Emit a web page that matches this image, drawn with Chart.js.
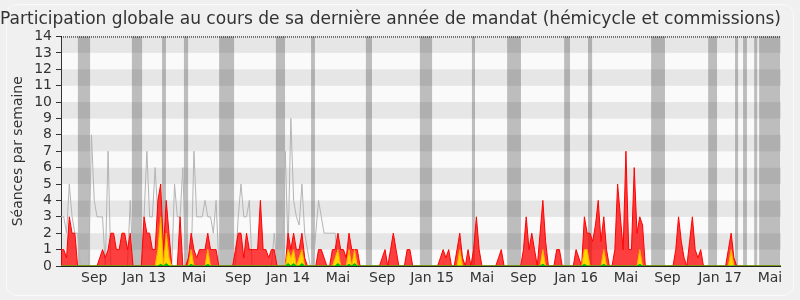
<!DOCTYPE html>
<html lang="fr">
<head>
  <meta charset="UTF-8" />
  <title>Participation globale</title>
  <script src="https://cdn.jsdelivr.net/npm/chart.js"></script>
  <style>
    html, body { margin: 0; padding: 0; background: #f0f0f0; }
    .chart-container { position: relative; width: 800px; height: 300px; }
  </style>
</head>
<body>
  <div class="chart-container">
    <canvas id="participationChart"></canvas>
  </div>

  <script>
    // one value per week, from mid-June 2012 to June 2017
    const presences = [
      1, 1, 0.5, 3, 2, 2, 0, 0, 0, 0, 0, 0, 0, 0, 0.5, 1, 0.5, 1, 2, 2,
      1, 1, 2, 2, 1, 2, 0, 0, 0, 0, 3, 2, 2, 1, 1, 4, 5, 1, 4, 2,
      0, 0, 0, 3, 0, 0, 0.5, 2, 1, 0.5, 1, 1, 1, 2, 1, 1, 1, 0, 0, 0,
      0, 0, 0, 1, 2, 2, 0.5, 2, 1, 1, 1, 1, 4, 1, 1, 0.5, 1, 1, 0, 0,
      0, 0, 2, 1, 2, 1, 1, 2, 0.5, 0, 0, 0, 0, 1, 1, 0.5, 0, 0, 1, 1,
      2, 1, 1, 0.5, 2, 1, 1, 1, 0, 0, 0, 0, 0, 0, 0, 0, 0.5, 1, 0, 1,
      2, 1, 0, 0, 0, 1, 1, 0, 0, 0, 0, 0, 0, 0, 0, 0, 0, 0.5, 1, 0.5,
      1, 0, 0, 1, 2, 0.5, 0, 1, 0, 1, 3, 1, 0, 0, 0, 0, 0, 0, 0.5, 1,
      0, 0, 0, 0, 0, 0, 0, 1, 3, 1, 2, 1, 0, 2, 4, 1.5, 0, 0, 0, 1,
      1, 0, 0, 0, 0, 0, 1, 0.5, 0, 3, 2, 2, 1.5, 2.5, 4, 1.5, 3, 1, 0, 0,
      1, 5, 3, 1, 7, 1, 1, 6, 2, 3, 2.5, 0, 0, 0, 0, 0, 0, 0, 0, 0,
      0, 0, 1, 3, 1.5, 0.5, 0, 1.5, 3, 1, 0.5, 1, 0, 0, 0, 0, 0, 0, 0, 0,
      0, 1, 2, 0.5, 0, 0, 0, 0, 0, 0, 0, 0, 0, 0, 0, 0, 0, 0, 0, 0,
      0
    ];

    const interventions = [
      0, 0, 0, 0, 0, 0, 0, 0, 0, 0, 0, 0, 0, 0, 0, 0, 0, 0, 0, 0,
      0, 0, 0, 0, 0, 0, 0, 0, 0, 0, 0, 0, 0, 0, 0, 1, 3, 0, 2, 0.5,
      0, 0, 0, 0, 0, 0, 0, 1, 0, 0, 0, 0, 0, 1, 0, 0, 0, 0, 0, 0,
      0, 0, 0, 0, 0, 0, 0, 0, 0, 0, 0, 0, 0, 0, 0, 0, 0, 0, 0, 0,
      0, 0, 1, 0.5, 1, 0, 0.5, 1, 0, 0, 0, 0, 0, 0, 0, 0, 0, 0, 0, 0.5,
      1, 0, 0, 0, 1, 0, 1, 0, 0, 0, 0, 0, 0, 0, 0, 0, 0, 0, 0, 0,
      0, 0, 0, 0, 0, 0, 0, 0, 0, 0, 0, 0, 0, 0, 0, 0, 0, 0, 0, 0,
      0, 0, 0, 0, 1, 0, 0, 0, 0, 0, 0, 0, 0, 0, 0, 0, 0, 0, 0, 0,
      0, 0, 0, 0, 0, 0, 0, 0, 0, 0, 0, 0, 0, 0, 1, 0, 0, 0, 0, 0,
      0, 0, 0, 0, 0, 0, 0, 0, 0, 1, 1, 0, 0, 0, 0, 0, 1, 0, 0, 0,
      0, 0, 0, 0, 0, 0, 0, 0, 0, 1, 0, 0, 0, 0, 0, 0, 0, 0, 0, 0,
      0, 0, 0, 0, 0, 0, 0, 0, 0, 0, 0, 0, 0, 0, 0, 0, 0, 0, 0, 0,
      0, 0, 1, 0, 0, 0, 0, 0, 0, 0, 0, 0, 0, 0, 0, 0, 0, 0, 0, 0,
      0
    ];

    const questions = [
      0, 0, 0, 0, 0, 0, 0, 0, 0, 0, 0, 0, 0, 0, 0, 0, 0, 0, 0, 0,
      0, 0, 0, 0, 0, 0, 0, 0, 0, 0, 0, 0, 0, 0, 0, 0, 0.1, 0, 0.15, 0,
      0, 0, 0, 0, 0, 0, 0, 0.1, 0, 0, 0, 0, 0, 0.1, 0, 0, 0, 0, 0, 0,
      0, 0, 0, 0, 0, 0, 0, 0, 0, 0, 0, 0, 0, 0, 0, 0, 0, 0, 0, 0,
      0, 0, 0.15, 0, 0.15, 0, 0, 0.15, 0, 0, 0, 0, 0, 0, 0, 0, 0, 0, 0, 0,
      0.15, 0, 0, 0, 0.1, 0, 0.15, 0, 0, 0, 0, 0, 0, 0, 0, 0, 0, 0, 0, 0,
      0, 0, 0, 0, 0, 0, 0, 0, 0, 0, 0, 0, 0, 0, 0, 0, 0, 0, 0, 0,
      0, 0, 0, 0, 0, 0, 0, 0, 0, 0, 0, 0, 0, 0, 0, 0, 0, 0, 0, 0,
      0, 0, 0, 0, 0, 0, 0, 0, 0, 0, 0, 0, 0, 0, 0.1, 0, 0, 0, 0, 0,
      0, 0, 0, 0, 0, 0, 0, 0, 0, 0.1, 0, 0, 0, 0, 0, 0, 0.1, 0, 0, 0,
      0, 0, 0, 0, 0, 0, 0, 0, 0, 0.1, 0, 0, 0, 0, 0, 0, 0, 0, 0, 0,
      0, 0, 0, 0, 0, 0, 0, 0, 0, 0, 0, 0, 0, 0, 0, 0, 0, 0, 0, 0,
      0, 0, 0, 0, 0, 0, 0, 0, 0, 0, 0, 0, 0, 0, 0, 0, 0, 0, 0, 0,
      0
    ];

    const mediane = [
      3, 3, 2, 5, 3, 2, 2, 0, 0, 0, 0, 8, 4, 3, 3, 3, 0, 7, 0, 0,
      0, 0, 0, 0, 0, 4, 0, 0, 0, 0, 3, 7, 3, 3, 6, 3, 2, 0, 0, 0,
      0, 5, 3, 3, 6, 0, 0, 0, 7, 3, 3, 3, 4, 3, 3, 2, 4, 0, 0, 0,
      0, 0, 0, 0, 3, 5, 3, 3, 4, 0, 0, 0, 0, 0, 0, 0, 0, 2, 0, 0,
      0, 7, 1, 9, 4, 3, 2.5, 5, 2, 1, 0, 0, 2, 4, 3, 2, 2, 2, 2, 2,
      0, 0, 0, 0, 0, 0, 0, 0, 0, 0, 0, 0, 0, 0, 0, 0, 0, 0, 0, 0,
      0, 0, 0, 0, 0, 0, 0, 0, 0, 0, 0, 0, 0, 0, 0, 0, 0, 0, 0, 0,
      0, 0, 0, 0, 0, 0, 0, 0, 0, 0, 0, 0, 0, 0, 0, 0, 0, 0, 0, 0,
      0, 0, 0, 0, 0, 0, 0, 0, 0, 0, 0, 0, 0, 0, 0, 0, 0, 0, 0, 0,
      0, 0, 0, 0, 0, 0, 0, 0, 0, 0, 0, 0, 0, 0, 0, 0, 0, 0, 0, 0,
      0, 0, 0, 0, 0, 0, 0, 0, 0, 0, 0, 0, 0, 0, 0, 0, 0, 0, 0, 0,
      0, 0, 0, 0, 0, 0, 0, 0, 0, 0, 0, 0, 0, 0, 0, 0, 0, 0, 0, 0,
      0, 0, 0, 0, 0, 0, 0, 0, 0, 0, 0, 0, 0, 0, 0, 0, 0, 0, 0, 0,
      0
    ];

    // parliamentary holidays, as [first week, last week]
    const vacances = [
      [6.1, 10.5], [25.6, 29.3], [36.5, 37.9], [44.4, 45.9], [57.1, 62.5],
      [77.6, 80.9], [90.3, 91.7], [110.1, 112.3], [129.6, 134.0], [148.4, 149.5],
      [161.1, 166.1], [181.7, 183.8], [190.3, 191.8], [213.1, 218.1], [233.7, 236.9],
      [243.4, 244.5], [246.3, 247.7], [250.3, 251.4], [252.1, 259.7]
    ];

    const tickWeeks = [12, 30, 48, 64, 82, 100, 116, 134, 152, 167, 186, 204, 219, 238, 256];
    const tickLabels = ["Sep", "Jan 13", "Mai", "Sep", "Jan 14", "Mai", "Sep", "Jan 15",
                        "Mai", "Sep", "Jan 16", "Mai", "Sep", "Jan 17", "Mai"];

    const weeks = presences.map((v, i) => i);

    const FONT = "DejaVu Sans";

    const backdrop = {
      id: "backdrop",
      beforeDraw(chart) {
        const { ctx, chartArea: a, scales: { x, y } } = chart;
        ctx.save();
        ctx.fillStyle = "#f0f0f0";
        ctx.fillRect(0, 0, chart.width, chart.height);
        ctx.strokeStyle = "#fafafa";
        ctx.lineWidth = 1;
        ctx.beginPath();
        ctx.roundRect(6.5, 4.5, chart.width - 13, chart.height - 9, 10);
        ctx.stroke();

        // alternating stripes
        for (let v = 0; v < 14; v++) {
          ctx.fillStyle = v % 2 === 0 ? "#fafafa" : "#e6e6e6";
          const top = y.getPixelForValue(v + 1);
          const bot = y.getPixelForValue(v);
          ctx.fillRect(a.left, top, a.right - a.left, bot - top);
        }

        // holidays
        ctx.fillStyle = "rgba(50, 50, 50, 0.3)";
        vacances.forEach(([s, e]) => {
          const x0 = x.getPixelForValue(s);
          const x1 = x.getPixelForValue(e);
          ctx.fillRect(x0, a.top, x1 - x0, a.bottom - a.top);
        });
        ctx.restore();
      },
      afterDatasetsDraw(chart) {
        const { ctx, chartArea: a } = chart;
        ctx.save();
        ctx.strokeStyle = "#000";
        ctx.lineWidth = 1;
        ctx.setLineDash([1, 1]);
        ctx.beginPath();
        ctx.moveTo(a.left, a.top + 0.5);
        ctx.lineTo(a.right, a.top + 0.5);
        ctx.stroke();
        ctx.setLineDash([]);
        ctx.strokeStyle = "#222";
        ctx.beginPath();
        ctx.moveTo(a.left, a.bottom + 0.5);
        ctx.lineTo(a.right, a.bottom + 0.5);
        ctx.stroke();
        ctx.restore();
      }
    };

    new Chart(document.getElementById("participationChart"), {
      type: "line",
      data: {
        labels: weeks,
        datasets: [
          {
            label: "Questions",
            data: questions,
            borderColor: "#00b000",
            backgroundColor: "#00c800",
            borderWidth: 1,
            fill: "origin",
            pointRadius: 0,
            tension: 0
          },
          {
            label: "Interventions",
            data: interventions,
            borderColor: "#ffb000",
            backgroundColor: "#ffd800",
            borderWidth: 1,
            fill: "origin",
            pointRadius: 0,
            tension: 0
          },
          {
            label: "Présences",
            data: presences,
            borderColor: "#ff0000",
            backgroundColor: "rgba(255, 0, 0, 0.75)",
            borderWidth: 1,
            fill: "origin",
            pointRadius: 0,
            tension: 0
          },
          {
            label: "Médiane",
            data: mediane,
            borderColor: "#b4b4b4",
            borderWidth: 1,
            fill: false,
            pointRadius: 0,
            tension: 0
          }
        ]
      },
      options: {
        responsive: true,
        maintainAspectRatio: false,
        animation: false,
        layout: { padding: { left: 0, right: 19, top: 0, bottom: 0 } },
        plugins: {
          legend: { display: false },
          tooltip: { enabled: false },
          title: {
            display: true,
            text: "Participation globale au cours de sa dernière année de mandat (hémicycle et commissions)",
            color: "#333",
            font: { family: FONT, size: 17.4, weight: "normal" },
            padding: { top: 9, bottom: 6.6 }
          }
        },
        scales: {
          x: {
            type: "category",
            offset: false,
            grid: { display: false, drawTicks: false },
            border: { display: false },
            ticks: {
              autoSkip: false,
              maxRotation: 0,
              minRotation: 0,
              padding: 4,
              color: "#333",
              font: { family: FONT, size: 14 },
              callback: (val, idx) => {
                const k = tickWeeks.indexOf(idx);
                return k >= 0 ? tickLabels[k] : "";
              }
            },
            afterFit: (scale) => { scale.height = 34; }
          },
          y: {
            min: 0,
            max: 14,
            grid: { drawOnChartArea: false, drawTicks: true, tickLength: 5, color: "#333" },
            border: { display: true, color: "#333" },
            ticks: {
              stepSize: 1,
              autoSkip: false,
              padding: 4,
              color: "#333",
              font: { family: FONT, size: 14 }
            },
            title: {
              display: true,
              text: "Séances par semaine",
              color: "#333",
              font: { family: FONT, size: 14 },
              padding: { top: 10, bottom: 0 }
            },
            afterFit: (scale) => { scale.width = 61; }
          }
        }
      },
      plugins: [backdrop]
    });
  </script>
</body>
</html>
